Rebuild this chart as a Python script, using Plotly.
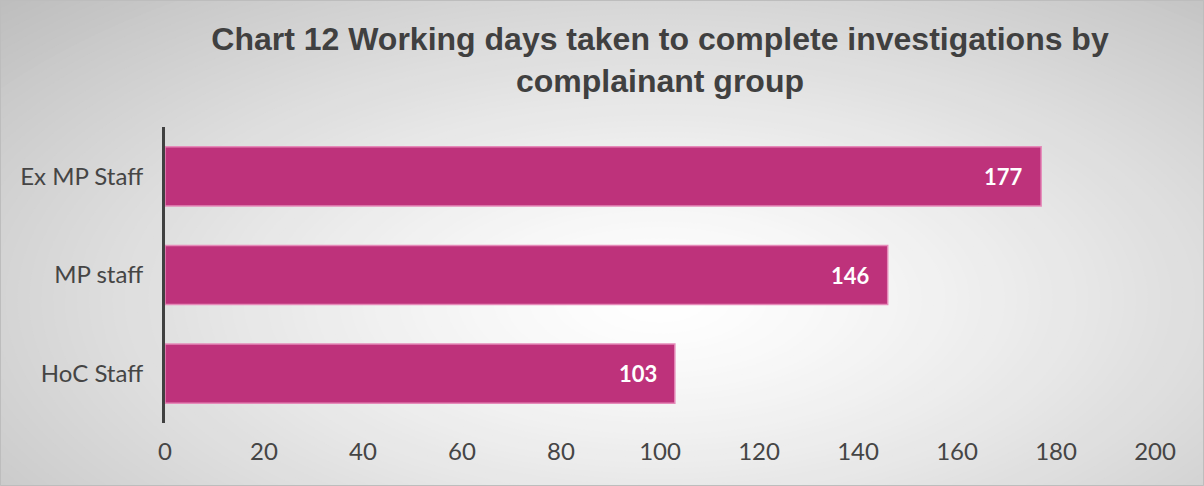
import plotly.graph_objects as go

# Datos del gráfico
grupos = ['HoC Staff', 'MP staff', 'Ex MP Staff']
dias = [103, 146, 177]
ticks_x = [0, 20, 40, 60, 80, 100, 120, 140, 160, 180, 200]

W, H = 1204, 486
L, R, T, B = 165, 49, 127, 63
pw, ph = W - L - R, H - T - B

fig = go.Figure()

fig.add_trace(go.Bar(
    x=dias,
    y=grupos,
    orientation='h',
    width=0.6,
    marker=dict(color='#BE327B', line=dict(color='#E58AB9', width=1.5)),
    hoverinfo='skip',
))

# Etiquetas de valor dentro de la barra
for g, v in zip(grupos, dias):
    fig.add_annotation(
        x=v, y=g, text=str(v), showarrow=False,
        xanchor='right', xshift=-16,
        font=dict(family='Lato', size=22, color='white', weight='bold'),
    )

# Fondo con degradado radial (elipses concéntricas)
def px_to_paper(x, y):
    return (x - L) / pw, (H - B - y) / ph

cx, cy = 660, 300
rx, ry = 700, 330
shapes = []
n = 100
for i in range(n):
    r = 1.7 * (1 - i / n)
    g = int(round(255 - 46 * r ** 1.3))
    g = max(0, min(255, g))
    x0, y0 = px_to_paper(cx - rx * r, cy + ry * r)
    x1, y1 = px_to_paper(cx + rx * r, cy - ry * r)
    shapes.append(dict(type='circle', xref='paper', yref='paper',
                       x0=x0, y0=y0, x1=x1, y1=y1, layer='below',
                       fillcolor=f'rgb({g},{g},{g})', line=dict(width=0)))

# Borde exterior
bx0, by0 = px_to_paper(0.5, H - 0.5)
bx1, by1 = px_to_paper(W - 0.5, 0.5)
shapes.append(dict(type='rect', xref='paper', yref='paper',
                   x0=bx0, y0=by0, x1=bx1, y1=by1, layer='above',
                   line=dict(color='#BDBDBD', width=1)))

fig.update_layout(
    width=W, height=H,
    margin=dict(l=L, r=R, t=T, b=B),
    paper_bgcolor='#C8C8C8',
    plot_bgcolor='rgba(0,0,0,0)',
    showlegend=False,
    shapes=shapes,
    title=dict(
        text='Chart 12 Working days taken to complete investigations by<br>complainant group',
        x=0.5, xanchor='center', xref='paper',
        y=1 - 50 / H, yanchor='middle',
        font=dict(family='Liberation Sans', size=32, color='#404040', weight='bold'),
    ),
)

fig.update_xaxes(
    range=[0, 200],
    tickvals=ticks_x,
    showgrid=False,
    zeroline=False,
    showline=False,
    ticks='',
    tickfont=dict(family='Lato', size=24, color='#454545'),
    ticklabelstandoff=12,
)

fig.update_yaxes(
    range=[-0.5, 2.5],
    showgrid=False,
    zeroline=False,
    showline=True,
    linecolor='#404040',
    linewidth=3,
    ticks='',
    tickfont=dict(family='Lato', size=24, color='#454545'),
    ticklabelstandoff=14,
)

fig.write_html('out.html', config={'displayModeBar': False},
               post_script="document.body.style.margin='0';")
